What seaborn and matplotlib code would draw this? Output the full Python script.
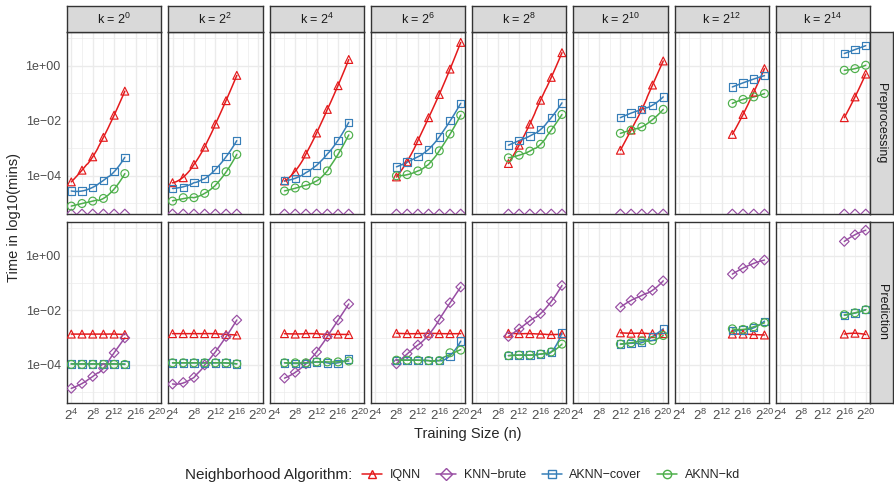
import numpy as np
import pandas as pd
import matplotlib
matplotlib.use("Agg")
import matplotlib.pyplot as plt
import seaborn as sns
from matplotlib.lines import Line2D

# facets: k = 2^k_exp, training sizes n = 2^n_first .. 2^n_last in steps of 2
k_exp = [0, 2, 4, 6, 8, 10, 12, 14]
n_first = [4, 4, 6, 8, 10, 12, 14, 16]
n_last = [14, 16, 18, 20, 20, 20, 20, 20]

# time in minutes, one list per k facet
pre_iqnn = [
    [6.0e-5, 1.6e-4, 4.9e-4, 2.5e-3, 1.6e-2, 1.2e-1],
    [5.6e-5, 8.5e-5, 2.6e-4, 1.1e-3, 7.6e-3, 5.4e-2, 4.5e-1],
    [6.5e-5, 1.4e-4, 6.2e-4, 3.6e-3, 2.6e-2, 1.9e-1, 1.7],
    [9.1e-5, 3.2e-4, 1.9e-3, 1.3e-2, 9.1e-2, 7.6e-1, 7.1],
    [2.8e-4, 1.3e-3, 7.6e-3, 5.6e-2, 3.8e-1, 3.0],
    [8.5e-4, 4.6e-3, 2.6e-2, 2.0e-1, 1.5],
    [3.2e-3, 1.7e-2, 1.1e-1, 7.9e-1],
    [1.3e-2, 7.4e-2, 5.0e-1],
]
# brute force has no preprocessing step (0 min, drawn at the axis floor)
pre_brute = [
    [0, 0, 0, 0, 0, 0],
    [0, 0, 0, 0, 0, 0, 0],
    [0, 0, 0, 0, 0, 0, 0],
    [0, 0, 0, 0, 0, 0, 0],
    [0, 0, 0, 0, 0, 0],
    [0, 0, 0, 0, 0],
    [0, 0, 0, 0],
    [0, 0, 0],
]
pre_cover = [
    [2.8e-5, 2.8e-5, 3.8e-5, 6.8e-5, 1.4e-4, 4.7e-4],
    [3.5e-5, 3.8e-5, 5.6e-5, 7.8e-5, 1.7e-4, 4.9e-4, 1.9e-3],
    [6.6e-5, 7.9e-5, 1.3e-4, 2.4e-4, 6.2e-4, 1.9e-3, 8.9e-3],
    [2.1e-4, 3.2e-4, 4.9e-4, 9.1e-4, 2.6e-3, 1.0e-2, 4.3e-2],
    [1.3e-3, 1.9e-3, 2.8e-3, 4.8e-3, 1.3e-2, 4.5e-2],
    [1.3e-2, 1.9e-2, 2.6e-2, 3.7e-2, 7.4e-2],
    [1.7e-1, 2.4e-1, 3.3e-1, 4.4e-1],
    [2.8, 3.9, 5.4],
]
pre_kd = [
    [7.9e-6, 9.8e-6, 1.2e-5, 1.5e-5, 3.3e-5, 1.2e-4],
    [1.2e-5, 1.6e-5, 1.6e-5, 2.3e-5, 4.5e-5, 1.4e-4, 6.0e-4],
    [2.8e-5, 3.6e-5, 4.5e-5, 6.5e-5, 1.5e-4, 6.5e-4, 3.0e-3],
    [1.0e-4, 1.1e-4, 1.5e-4, 2.6e-4, 8.1e-4, 3.3e-3, 1.6e-2],
    [4.5e-4, 5.6e-4, 7.9e-4, 1.4e-3, 4.6e-3, 1.7e-2],
    [3.5e-3, 4.6e-3, 6.0e-3, 1.1e-2, 2.6e-2],
    [4.3e-2, 6.0e-2, 7.4e-2, 9.8e-2],
    [6.9e-1, 7.9e-1, 1.05],
]

pred_iqnn = [
    [1.35e-3, 1.35e-3, 1.35e-3, 1.35e-3, 1.35e-3, 1.3e-3],
    [1.4e-3, 1.4e-3, 1.4e-3, 1.4e-3, 1.4e-3, 1.3e-3, 1.25e-3],
    [1.4e-3, 1.35e-3, 1.4e-3, 1.4e-3, 1.3e-3, 1.35e-3, 1.3e-3],
    [1.45e-3, 1.4e-3, 1.4e-3, 1.45e-3, 1.4e-3, 1.4e-3, 1.4e-3],
    [1.45e-3, 1.4e-3, 1.4e-3, 1.35e-3, 1.3e-3, 1.35e-3],
    [1.5e-3, 1.45e-3, 1.45e-3, 1.4e-3, 1.4e-3],
    [1.35e-3, 1.35e-3, 1.3e-3, 1.25e-3],
    [1.35e-3, 1.45e-3, 1.3e-3],
]
pred_brute = [
    [1.4e-5, 2.1e-5, 3.8e-5, 7.6e-5, 2.8e-4, 9.8e-4],
    [2.0e-5, 2.3e-5, 3.5e-5, 1.0e-4, 3.0e-4, 1.1e-3, 4.4e-3],
    [3.3e-5, 5.4e-5, 1.1e-4, 3.0e-4, 1.1e-3, 4.4e-3, 1.7e-2],
    [1.1e-4, 2.6e-4, 5.4e-4, 1.2e-3, 4.6e-3, 1.9e-2, 7.1e-2],
    [1.1e-3, 2.1e-3, 4.1e-3, 7.6e-3, 2.1e-2, 8.1e-2],
    [1.3e-2, 2.3e-2, 3.5e-2, 5.4e-2, 1.2e-1],
    [2.1e-1, 3.5e-1, 5.2e-1, 6.9e-1],
    [3.3, 5.8, 8.5],
]
pred_cover = [
    [1.1e-4, 1.1e-4, 1.1e-4, 1.1e-4, 1.1e-4, 1.05e-4],
    [1.2e-4, 1.2e-4, 1.2e-4, 1.2e-4, 1.2e-4, 1.2e-4, 1.1e-4],
    [1.2e-4, 1.15e-4, 1.15e-4, 1.3e-4, 1.2e-4, 1.15e-4, 1.65e-4],
    [1.5e-4, 1.5e-4, 1.5e-4, 1.45e-4, 1.45e-4, 2.0e-4, 7.6e-4],
    [2.2e-4, 2.3e-4, 2.3e-4, 2.5e-4, 3.0e-4, 1.5e-3],
    [5.8e-4, 6.2e-4, 6.6e-4, 1.1e-3, 2.1e-3],
    [1.8e-3, 1.9e-3, 2.3e-3, 4.0e-3],
    [6.6e-3, 7.9e-3, 1.05e-2],
]
pred_kd = [
    [1.05e-4, 1.05e-4, 1.05e-4, 1.05e-4, 1.05e-4, 1.05e-4],
    [1.2e-4, 1.2e-4, 1.2e-4, 1.2e-4, 1.2e-4, 1.2e-4, 1.1e-4],
    [1.2e-4, 1.2e-4, 1.2e-4, 1.3e-4, 1.3e-4, 1.3e-4, 1.4e-4],
    [1.5e-4, 1.5e-4, 1.5e-4, 1.45e-4, 1.45e-4, 2.8e-4, 3.5e-4],
    [2.2e-4, 2.3e-4, 2.3e-4, 2.5e-4, 3.0e-4, 5.8e-4],
    [5.8e-4, 6.5e-4, 7.6e-4, 7.9e-4, 1.2e-3],
    [2.1e-3, 2.0e-3, 2.5e-3, 3.5e-3],
    [6.9e-3, 8.1e-3, 1.05e-2],
]

algorithms = ["IQNN", "KNN\u2212brute", "AKNN\u2212cover", "AKNN\u2212kd"]
stages = {
    "Preprocessing": [pre_iqnn, pre_brute, pre_cover, pre_kd],
    "Prediction": [pred_iqnn, pred_brute, pred_cover, pred_kd],
}
colors = ["#E41A1C", "#984EA3", "#377EB8", "#4DAF4A"]
markers = ["^", "D", "s", "o"]
msizes = [32, 24, 28, 32]

rows = []
for stage, series in stages.items():
    for alg, values in zip(algorithms, series):
        for i, k in enumerate(k_exp):
            ns = np.arange(n_first[i], n_last[i] + 1, 2)
            for n, t in zip(ns, values[i]):
                rows.append(dict(stage=stage, alg=alg, k=k, n_exp=n, time=t))
df = pd.DataFrame(rows)
df["log_time"] = np.log10(df["time"].where(df["time"] > 0))


def loess(x, y, span=0.75):
    # local quadratic fit with tricube weights (geom_smooth default)
    grid = np.linspace(x.min(), x.max(), 60)
    q = max(int(np.floor(span * len(x))), 3)
    fit = []
    for g in grid:
        d = np.abs(x - g)
        h = np.sort(d)[min(q, len(x)) - 1] * 1.001 + 1e-9
        w = np.clip(1 - (d / h) ** 3, 0, None) ** 3
        c = np.polyfit(x, y, 2, w=np.sqrt(w))
        fit.append(np.polyval(c, g))
    return grid, np.array(fit)


sns.set_style("white")
plt.rcParams["font.family"] = ["Liberation Sans", "DejaVu Sans"]
plt.rcParams["mathtext.default"] = "regular"

W, H = 894, 483
fig = plt.figure(figsize=(W / 100, H / 100), dpi=100)
left, right = 67, 870
gap = 7
pw = (right - left - 7 * gap) / 8
row_y = [(32, 214), (222, 403)]
ylo, yhi = -5.39, 1.23
grey20 = "#333333"

for r, stage in enumerate(stages):
    y0, y1 = row_y[r]
    for c, k in enumerate(k_exp):
        x0 = left + c * (pw + gap)
        ax = fig.add_axes([x0 / W, 1 - y1 / H, pw / W, (y1 - y0) / H])
        ax.set_xlim(3.2, 20.8)
        ax.set_ylim(ylo, yhi)
        ax.set_xticks([4, 8, 12, 16, 20])
        ax.set_xticks([6, 10, 14, 18], minor=True)
        ax.set_yticks([0, -2, -4])
        ax.set_yticks([1, -1, -3, -5], minor=True)
        ax.grid(which="major", color="#EBEBEB", lw=1.0)
        ax.grid(which="minor", color="#EBEBEB", lw=0.5)
        ax.set_axisbelow(True)
        for s in ax.spines.values():
            s.set_color(grey20)
            s.set_linewidth(1.0)
        ax.tick_params(which="minor", length=0)
        ax.tick_params(which="major", length=3, width=0.6, color=grey20,
                       labelsize=9, labelcolor="#4D4D4D", pad=1.5)
        if c == 0:
            ax.set_yticklabels(["1e+00", "1e\u221202", "1e\u221204"])
        else:
            ax.tick_params(axis="y", length=0, labelleft=False)
        if r == 1:
            ax.set_xticklabels([f"$2^{{{e}}}$" for e in [4, 8, 12, 16, 20]],
                               fontsize=9.5)
            ax.tick_params(axis="x", pad=0.5)
        else:
            ax.tick_params(axis="x", length=0, labelbottom=False)

        for alg, col, mk, ms in zip(algorithms, colors, markers, msizes):
            sub = df[(df.stage == stage) & (df.k == k) & (df.alg == alg)]
            fin = sub.dropna(subset=["log_time"])
            if len(fin) >= 3:
                gx, gy = loess(fin.n_exp.to_numpy(float), fin.log_time.to_numpy())
                sns.lineplot(x=gx, y=gy, color=col, lw=1.1, ax=ax)
            yy = sub.log_time.fillna(ylo)
            sns.scatterplot(x=sub.n_exp, y=yy, color=col, facecolor="none",
                            edgecolor=col, marker=mk, s=ms, linewidth=0.85,
                            ax=ax, zorder=3)
        ax.set_xlabel("")
        ax.set_ylabel("")

        if r == 0:
            sx = fig.add_axes([x0 / W, 1 - 32 / H, pw / W, 26 / H])
            sx.set_facecolor("#D9D9D9")
            sx.set_xticks([])
            sx.set_yticks([])
            for s in sx.spines.values():
                s.set_color(grey20)
                s.set_linewidth(1.0)
            sx.text(0.5, 0.5, f"k = $2^{{{k}}}$", ha="center", va="center",
                    fontsize=9, color="#1A1A1A", transform=sx.transAxes)

    sx = fig.add_axes([870 / W, 1 - y1 / H, 23 / W, (y1 - y0) / H])
    sx.set_facecolor("#D9D9D9")
    sx.set_xticks([])
    sx.set_yticks([])
    for s in sx.spines.values():
        s.set_color(grey20)
        s.set_linewidth(1.0)
    sx.text(0.5, 0.5, stage, rotation=-90, ha="center", va="center",
            fontsize=9, color="#1A1A1A", transform=sx.transAxes)

fig.text(14 / W, 1 - 217 / H, "Time in log10(mins)", rotation=90,
         ha="center", va="center", fontsize=10.5)
fig.text(468 / W, 1 - 434 / H, "Training Size (n)", ha="center",
         va="center", fontsize=10.5)

fig.text(185 / W, 1 - 475 / H, "Neighborhood Algorithm:", ha="left",
         va="center", fontsize=11)
handles = [Line2D([], [], color=col, marker=mk, markerfacecolor="none",
                  markeredgecolor=col, markersize=6, lw=1.1)
           for col, mk in zip(colors, markers)]
fig.legend(handles, algorithms, loc="center left",
           bbox_to_anchor=(362 / W, 1 - 475 / H), ncol=4, frameon=False,
           fontsize=9, handlelength=1.6, handletextpad=0.6,
           columnspacing=1.25, borderaxespad=0, borderpad=0)

fig.savefig("out.png", dpi=100)
